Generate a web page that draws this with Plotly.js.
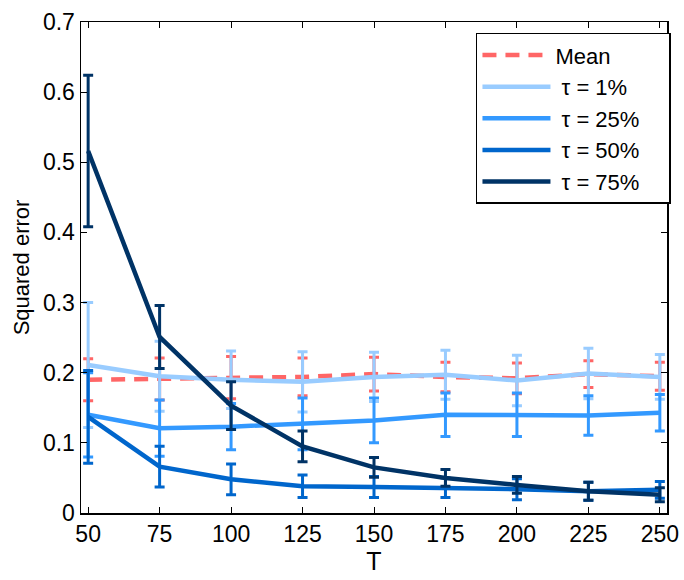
<!DOCTYPE html>
<html>
<head>
<meta charset="utf-8">
<script src="https://cdn.plot.ly/plotly-3.0.1.min.js"></script>
<style>
  html, body { margin: 0; padding: 0; background: #fff; }
  #chart { width: 684px; height: 580px; }
</style>
</head>
<body>
<div id="chart"></div>
<script>
// Horizon lengths T
const T = [50, 75, 100, 125, 150, 175, 200, 225, 250];

// Squared error of the mean estimator and of the quantile estimators
const meanErr = [0.190, 0.191, 0.193, 0.194, 0.198, 0.194, 0.192, 0.198, 0.195];
const meanSd  = [0.030, 0.030, 0.030, 0.027, 0.024, 0.021, 0.022, 0.019, 0.020];

const tau1Err = [0.211, 0.195, 0.190, 0.187, 0.194, 0.197, 0.189, 0.199, 0.194];
const tau1Sd  = [0.089, 0.050, 0.041, 0.043, 0.035, 0.035, 0.036, 0.036, 0.032];

const tau25Err = [0.140, 0.121, 0.123, 0.127, 0.132, 0.140, 0.140, 0.139, 0.143];
const tau25Sd  = [0.060, 0.040, 0.033, 0.037, 0.032, 0.031, 0.031, 0.028, 0.026];

const tau50Err = [0.137, 0.066, 0.048, 0.038, 0.037, 0.036, 0.034, 0.031, 0.033];
const tau50Sd  = [0.066, 0.029, 0.022, 0.016, 0.015, 0.014, 0.015, 0.013, 0.012];

const tau75Err = [0.516, 0.251, 0.153, 0.095, 0.065, 0.050, 0.040, 0.031, 0.026];
const tau75Sd  = [0.108, 0.045, 0.034, 0.022, 0.014, 0.012, 0.012, 0.013, 0.010];

const names = ['Mean', '\u00a0\u03c4 = 1%', '\u00a0\u03c4 = 25%', '\u00a0\u03c4 = 50%', '\u00a0\u03c4 = 75%\u00a0\u00a0\u00a0\u00a0'];
const colors = ['#ff6666', '#99ccff', '#3399ff', '#0066cc', '#003366'];

function series(y, sd, i, dash) {
  return {
    x: T, y: y, name: names[i], type: 'scatter', mode: 'lines',
    line: { color: colors[i], width: 4.5, dash: dash || 'solid' },
    error_y: { type: 'data', array: sd, visible: true, color: colors[i], thickness: 3, width: 5 },
    hoverinfo: 'x+y'
  };
}

const data = [
  series(meanErr, meanSd, 0, '14px,9px'),
  series(tau1Err, tau1Sd, 1),
  series(tau25Err, tau25Sd, 2),
  series(tau50Err, tau50Sd, 3),
  series(tau75Err, tau75Sd, 4)
];

const font = { family: 'Liberation Sans, Arial, Helvetica, sans-serif', color: '#000', size: 23 };

const layout = {
  width: 684, height: 580,
  margin: { l: 81, r: 17, t: 22, b: 67 },
  paper_bgcolor: '#fff', plot_bgcolor: '#fff',
  font: font,
  showlegend: true,
  legend: {
    x: 0.674, y: 0.978, xanchor: 'left', yanchor: 'top',
    bgcolor: '#fff', bordercolor: '#000', borderwidth: 1.5,
    font: { family: font.family, size: 22, color: '#000' },
    itemwidth: 68, tracegroupgap: 0
  },
  xaxis: {
    range: [47.5, 252.5],
    tickvals: T, ticktext: T.map(String),
    ticks: 'inside', ticklen: 6, tickcolor: '#000', tickwidth: 1,
    showline: true, linecolor: '#000', linewidth: 1.5, mirror: 'ticks',
    showgrid: false, zeroline: false,
    tickfont: { size: 23 },
    title: { text: 'T', font: { size: 25 }, standoff: 0 }
  },
  yaxis: {
    range: [0, 0.7],
    tickvals: [0, 0.1, 0.2, 0.3, 0.4, 0.5, 0.6, 0.7],
    ticktext: ['0', '0.1', '0.2', '0.3', '0.4', '0.5', '0.6', '0.7'],
    ticks: 'inside', ticklen: 6, tickcolor: '#000', tickwidth: 1,
    showline: true, linecolor: '#000', linewidth: 1.5, mirror: 'ticks',
    showgrid: false, zeroline: false,
    tickfont: { size: 23 },
    title: { text: 'Squared error', font: { size: 22 }, standoff: 7 }
  }
};

Plotly.newPlot('chart', data, layout, { displayModeBar: false, staticPlot: true });
</script>
</body>
</html>
